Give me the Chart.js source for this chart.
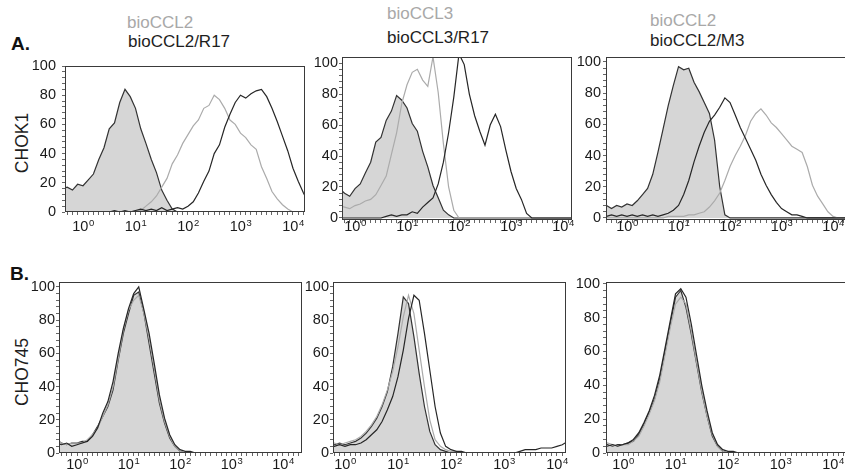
<!DOCTYPE html>
<html>
<head>
<meta charset="utf-8">
<script src="https://cdn.jsdelivr.net/npm/chart.js@4.4.1/dist/chart.umd.min.js"></script>
<style>
  html, body { margin: 0; padding: 0; background: #fff; }
  body { width: 845px; height: 474px; position: relative; overflow: hidden;
         font-family: "Liberation Sans", Arial, sans-serif; }
  .lbl { position: absolute; white-space: nowrap; line-height: 1; }
  .gray { color: #a8a8a8; font-size: 17px; }
  .dark { color: #1e1e1e; font-size: 17px; }
  .panel { font-weight: bold; font-size: 19px; color: #111; }
  .rot { font-size: 17.5px; color: #1e1e1e; transform: translate(-50%, -50%) rotate(-90deg); }
  canvas { position: absolute; }
</style>
</head>
<body>
<div class="lbl panel" style="left:11px;top:34px">A.</div>
<div class="lbl panel" style="left:10px;top:264px">B.</div>
<div class="lbl rot" style="left:23px;top:143px">CHOK1</div>
<div class="lbl rot" style="left:23px;top:372px">CHO745</div>

<div class="lbl gray" style="left:127px;top:14px">bioCCL2</div>
<div class="lbl dark" style="left:128px;top:33px">bioCCL2/R17</div>
<div class="lbl gray" style="left:387px;top:5px">bioCCL3</div>
<div class="lbl dark" style="left:387px;top:29px">bioCCL3/R17</div>
<div class="lbl gray" style="left:650px;top:12px">bioCCL2</div>
<div class="lbl dark" style="left:650px;top:32px">bioCCL2/M3</div>

<script>
// fluorescence channels (10 bins per decade)
const channels = [0.40, 0.50, 0.63, 0.79,
  1, 1.26, 1.58, 2.00, 2.51, 3.16, 3.98, 5.01, 6.31, 7.94,
  10, 12.6, 15.8, 20.0, 25.1, 31.6, 39.8, 50.1, 63.1, 79.4,
  100, 126, 158, 200, 251, 316, 398, 501, 631, 794,
  1000, 1259, 1585, 1995, 2512, 3162, 3981, 5012, 6310, 7943,
  10000, 12589, 15849, 19953, 25119];

const decadeTicks = [1, 10, 100, 1000, 10000];
const decadeExponents = ['0', '1', '2', '3', '4'];
const yLabels = [0, 20, 40, 60, 80, 100];

// ---- row A : CHOK1 ----
const a1Control = [16, 17, 15, 19,
  18, 22, 26, 36, 44, 57, 61, 75, 84, 79,
  71, 57, 47, 36, 27, 15, 8, 2, 0, 0,
  0, 0, 0, 0, 0, 0, 0, 0, 0, 0,
  0, 0, 0, 0, 0, 0, 0, 0, 0, 0,
  0, 0, 0, 0, 0];
const a1Ccl2 = [0, 0, 0, 0,
  0, 0, 0, 0, 0, 0, 0, 0, 0, 0,
  1, 1, 4, 7, 11, 17, 23, 33, 39, 47,
  53, 59, 63, 71, 73, 80, 77, 71, 63, 60,
  54, 51, 46, 43, 31, 23, 14, 9, 5, 2,
  0, 0, 0, 0, 0];
const a1R17 = [0, 0, 0, 0,
  0, 0, 0, 0, 0, 0, 1, 0, 1, 0,
  1, 2, 1, 2, 1, 3, 1, 2, 3, 2,
  4, 7, 13, 21, 28, 40, 46, 58, 67, 75,
  80, 78, 81, 83, 84, 79, 71, 62, 52, 42,
  30, 21, 13, 6, 2];

const a2Control = [18, 19, 16, 14,
  19, 22, 29, 36, 49, 52, 63, 69, 79, 76,
  71, 61, 56, 43, 33, 21, 13, 5, 2, 0,
  0, 0, 0, 0, 0, 0, 0, 0, 0, 0,
  0, 0, 0, 0, 0, 0, 0, 0, 0, 0,
  0, 0, 0, 0, 0];
const a2Ccl3 = [7, 8, 7, 6,
  8, 9, 11, 12, 15, 21, 27, 41, 55, 74,
  86, 94, 96, 89, 85, 104, 81, 48, 20, 5,
  0, 0, 0, 0, 0, 0, 0, 0, 0, 0,
  0, 0, 0, 0, 0, 0, 0, 0, 0, 0,
  0, 0, 0, 0, 0];
const a2R17 = [0, 0, 0, 0,
  0, 0, 0, 0, 0, 0, 1, 2, 1, 2,
  2, 4, 3, 7, 10, 13, 22, 36, 55, 78,
  106, 99, 80, 66, 56, 47, 60, 67, 59, 44,
  30, 19, 12, 3, 0, 0, 0, 0, 0, 0,
  0, 0, 0, 0, 0];

const a3Control = [8, 6, 8, 7,
  9, 8, 11, 15, 19, 28, 42, 57, 72, 85,
  97, 95, 96, 87, 81, 74, 67, 50, 20, 2,
  0, 0, 0, 0, 0, 0, 0, 0, 0, 0,
  0, 0, 0, 0, 0, 0, 0, 0, 0, 0,
  0, 0, 0, 0, 0];
const a3Ccl2 = [0, 0, 0, 0,
  0, 0, 0, 0, 0, 0, 0, 0, 1, 1,
  1, 1, 2, 2, 3, 4, 7, 11, 16, 24,
  33, 40, 46, 53, 62, 67, 70, 66, 61, 58,
  54, 50, 46, 44, 42, 33, 21, 14, 9, 4,
  1, 0, 0, 0, 0];
const a3M3 = [1, 2, 1, 2,
  1, 2, 1, 2, 1, 2, 1, 2, 3, 5,
  8, 15, 24, 36, 46, 55, 62, 66, 71, 77,
  74, 66, 58, 51, 44, 37, 28, 21, 15, 10,
  6, 4, 2, 2, 1, 0, 0, 0, 0, 0,
  0, 0, 0, 0, 0];

// ---- row B : CHO745 ----
const b1Control = [8, 6, 5, 6,
  6, 7, 7, 11, 16, 22, 28, 38, 56, 72,
  84, 95, 97, 84, 66, 48, 30, 18, 9, 4,
  1, 0, 0, 0, 0, 0, 0, 0, 0, 0,
  0, 0, 0, 0, 0, 0, 0, 0, 0, 0,
  0, 0, 0, 0, 0];
const b1Ccl2 = [7, 6, 5, 6,
  6, 6, 8, 11, 15, 22, 29, 40, 57, 74,
  86, 92, 95, 84, 69, 51, 32, 19, 10, 4,
  1, 0, 0, 0, 0, 0, 0, 0, 0, 0,
  0, 0, 0, 0, 0, 0, 0, 0, 0, 0,
  0, 0, 0, 0, 0];
const b1R17 = [6, 5, 6, 4,
  5, 6, 7, 10, 15, 24, 31, 43, 60, 75,
  87, 96, 100, 86, 72, 54, 35, 21, 11, 5,
  2, 1, 1, 0, 0, 0, 0, 0, 0, 0,
  0, 0, 0, 0, 0, 0, 0, 0, 0, 0,
  0, 0, 0, 0, 0];

const b2Control = [6, 6, 5, 6,
  5, 6, 7, 9, 12, 16, 21, 28, 37, 52,
  72, 94, 90, 70, 48, 28, 13, 5, 2, 1,
  0, 0, 0, 0, 0, 0, 0, 0, 0, 0,
  0, 0, 0, 0, 0, 0, 0, 0, 0, 0,
  0, 0, 0, 0, 0];
const b2Ccl3 = [7, 6, 6, 5,
  6, 7, 8, 10, 13, 17, 22, 29, 38, 49,
  64, 82, 95, 84, 62, 40, 20, 8, 4, 2,
  1, 1, 0, 0, 0, 0, 0, 0, 0, 0,
  0, 0, 0, 0, 0, 0, 0, 0, 0, 0,
  0, 0, 0, 0, 0];
const b2R17 = [4, 5, 4, 5,
  4, 5, 5, 6, 8, 11, 14, 19, 26, 34,
  46, 62, 81, 95, 92, 72, 50, 28, 12, 4,
  2, 1, 1, 0, 0, 0, 0, 0, 0, 0,
  0, 0, 0, 1, 2, 2, 2, 3, 3, 3,
  4, 5, 7, 8, 9];

const b3Control = [6, 5, 4, 5,
  5, 6, 7, 11, 17, 24, 32, 44, 60, 76,
  92, 96, 86, 70, 53, 36, 22, 10, 4, 1,
  0, 0, 0, 0, 0, 0, 0, 0, 0, 0,
  0, 0, 0, 0, 0, 0, 0, 0, 0, 0,
  0, 0, 0, 0, 0];
const b3Ccl2 = [5, 6, 5, 4,
  5, 5, 7, 10, 16, 23, 31, 42, 58, 74,
  88, 92, 88, 72, 54, 37, 22, 11, 4, 1,
  0, 0, 0, 0, 0, 0, 0, 0, 0, 0,
  0, 0, 0, 0, 0, 0, 0, 0, 0, 0,
  0, 0, 0, 0, 0];
const b3M3 = [5, 4, 5, 4,
  5, 6, 8, 12, 18, 25, 34, 46, 62, 78,
  94, 97, 92, 76, 58, 40, 25, 12, 5, 2,
  1, 1, 0, 0, 0, 0, 0, 0, 0, 0,
  0, 0, 0, 0, 0, 0, 0, 0, 0, 0,
  0, 0, 0, 0, 0];

// where each plot box sits on the page, and its axis ranges
const panels = [
  { box: [65, 66, 305, 212], x: [0.454, 16950], y: [0, 100], yPad: 6, xBase: 19, series: [a1Control, a1Ccl2, a1R17] },
  { box: [342, 57, 572, 220], x: [0.562, 14900], y: [-1.3, 103.9], yPad: 1, xBase: 11, series: [a2Control, a2Ccl3, a2R17] },
  { box: [606, 57, 848, 220], x: [0.391, 19500], y: [-1.3, 103.2], yPad: 2, xBase: 11, series: [a3Control, a3Ccl2, a3M3] },
  { box: [59, 282, 302, 453], x: [0.447, 23400], y: [0, 103], yPad: 1, xBase: 16, series: [b1Control, b1Ccl2, b1R17] },
  { box: [333, 282, 566, 453], x: [0.594, 14800], y: [0, 103], yPad: 1, xBase: 16, series: [b2Control, b2Ccl3, b2R17] },
  { box: [606, 282, 848, 453], x: [0.474, 19300], y: [0, 101], yPad: 3, xBase: 16, series: [b3Control, b3Ccl2, b3M3] }
];

const FONT = '"Liberation Sans", Arial, sans-serif';

// closed frame round each plot
const frame = {
  id: 'frame',
  afterDraw(chart) {
    const { ctx, chartArea: a } = chart;
    ctx.save();
    ctx.strokeStyle = '#3a3a3a';
    ctx.lineWidth = 1;
    ctx.strokeRect(a.left + 0.5, a.top + 0.5, a.right - a.left - 1, a.bottom - a.top - 1);
    ctx.restore();
  }
};

// "10" with a raised exponent under each decade
const expLabels = {
  id: 'expLabels',
  afterDraw(chart, args, opts) {
    const s = chart.scales.x, ctx = chart.ctx;
    const base = chart.chartArea.bottom + opts.base;
    ctx.save();
    ctx.fillStyle = '#1a1a1a';
    ctx.textBaseline = 'alphabetic';
    ctx.textAlign = 'left';
    decadeTicks.forEach((v, i) => {
      const x = s.getPixelForValue(v);
      ctx.font = '14.5px ' + FONT;
      const w1 = ctx.measureText('10').width;
      ctx.font = '9.5px ' + FONT;
      const w2 = ctx.measureText(decadeExponents[i]).width;
      const left = x - (w1 + w2) / 2;
      ctx.font = '14.5px ' + FONT;
      ctx.fillText('10', left, base);
      ctx.font = '9.5px ' + FONT;
      ctx.fillText(decadeExponents[i], left + w1 + 0.5, base - 5.5);
    });
    ctx.restore();
  }
};

const AXW = 36, AXH = 28, PT = 10, PR = 6;

function toPoints(arr) {
  return channels.map((c, i) => ({ x: c, y: arr[i] }));
}

function makePanel(p) {
  const cv = document.createElement('canvas');
  cv.width = p.box[2] - p.box[0] + AXW + PR;
  cv.height = p.box[3] - p.box[1] + PT + AXH;
  cv.style.left = (p.box[0] - AXW) + 'px';
  cv.style.top = (p.box[1] - PT) + 'px';
  document.body.appendChild(cv);

  const line = { pointRadius: 0, borderWidth: 1.2, tension: 0, fill: false };
  new Chart(cv.getContext('2d'), {
    type: 'line',
    data: {
      datasets: [
        { ...line, data: toPoints(p.series[2]), borderColor: '#262626' },
        { ...line, data: toPoints(p.series[1]), borderColor: '#ababab' },
        { ...line, data: toPoints(p.series[0]), borderColor: '#333333', backgroundColor: '#d6d6d6', fill: 'origin' }
      ]
    },
    options: {
      responsive: false,
      animation: false,
      devicePixelRatio: 1,
      layout: { padding: { top: PT, right: PR, left: 0, bottom: 0 } },
      plugins: { legend: { display: false }, tooltip: { enabled: false }, expLabels: { base: p.xBase } },
      scales: {
        x: {
          type: 'logarithmic', min: p.x[0], max: p.x[1],
          afterBuildTicks: s => { s.ticks = channels.filter(v => v >= s.min && v <= s.max).map(v => ({ value: v })); },
          afterFit: s => { s.height = AXH; s.paddingLeft = 0; s.paddingRight = 0; },
          ticks: { autoSkip: false, maxRotation: 0, callback: () => '' },
          grid: { drawOnChartArea: false, tickLength: 3, color: '#666' },
          border: { display: false }
        },
        y: {
          min: p.y[0], max: p.y[1],
          afterBuildTicks: s => {
            const t = [];
            for (let v = 0; v <= 100; v += 4) t.push({ value: v });
            s.ticks = t;
          },
          afterFit: s => { s.width = AXW; s.paddingTop = 0; s.paddingBottom = 0; },
          ticks: {
            autoSkip: false, padding: p.yPad, color: '#1a1a1a', font: { family: FONT, size: 14.5 },
            callback: v => yLabels.includes(v) ? String(v) : ''
          },
          grid: { drawOnChartArea: false, tickLength: 3, color: '#666' },
          border: { display: false }
        }
      }
    },
    plugins: [frame, expLabels]
  });
}

panels.forEach(makePanel);
</script>
</body>
</html>
